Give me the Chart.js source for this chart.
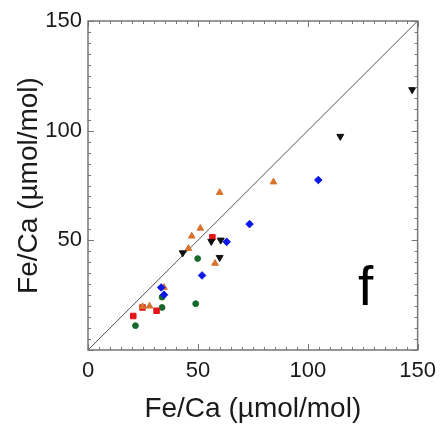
<!DOCTYPE html>
<html>
<head>
<meta charset="UTF-8">
<title>Fe/Ca</title>
<script src="https://cdn.jsdelivr.net/npm/chart.js"></script>
<style>
  body { margin: 0; background: #fff; }
  #c { display: block; }
</style>
</head>
<body>
<canvas id="c" width="444" height="432"></canvas>
<script>
// valores (x e y em µmol/mol)
var redX = [20.6, 24.8, 31.2, 56.6];
var redY = [15.5, 19.4, 17.9, 51.4];
var greenX = [21.6, 33.7, 33.7, 49.0, 49.9];
var greenY = [11.1, 24.1, 19.4, 21.1, 41.7];
var orangeX = [24.8, 28.0, 34.6, 45.7, 47.2, 51.1, 59.9, 57.8, 84.4];
var orangeY = [19.8, 20.0, 28.5, 46.3, 51.9, 55.5, 71.8, 39.5, 76.6];
var blackX = [43.1, 56.1, 60.4, 59.9, 114.8, 147.5];
var blackY = [44.3, 49.5, 50.1, 42.2, 97.4, 118.7];
var blueX = [33.3, 34.6, 51.9, 63.1, 73.5, 104.8];
var blueY = [28.5, 25.2, 34.0, 49.3, 57.4, 77.5];
var lineX = [0, 150];
var lineY = [0, 150];
var tickValues = [0, 50, 100, 150];
var axisTitle = "Fe/Ca (µmol/mol)";
var panelLabel = "f";

function pts(xs, ys) {
    return xs.map(function (x, i) { return { x: x, y: ys[i] }; });
}

// moldura com marcas para dentro, nos quatro lados
var frame = {
    id: "frame",
    afterDraw: function (chart) {
        var ctx = chart.ctx, a = chart.chartArea;
        var xs = chart.scales.x, ys = chart.scales.y;
        ctx.save();
        ctx.strokeStyle = "#777";
        ctx.lineWidth = 1;
        for (var v = 0; v <= 150; v += 5) {
            var len = v % 50 === 0 ? 6 : 3;
            var px = Math.round(xs.getPixelForValue(v)) + 0.5;
            var py = Math.round(ys.getPixelForValue(v)) + 0.5;
            ctx.beginPath();
            ctx.moveTo(px, a.bottom); ctx.lineTo(px, a.bottom - len);
            ctx.moveTo(px, a.top); ctx.lineTo(px, a.top + len);
            ctx.moveTo(a.left, py); ctx.lineTo(a.left + len, py);
            ctx.moveTo(a.right, py); ctx.lineTo(a.right - len, py);
            ctx.stroke();
        }
        ctx.lineWidth = 1.5;
        ctx.strokeRect(a.left, a.top, a.right - a.left, a.bottom - a.top);

        ctx.fillStyle = "#000";
        ctx.font = "55px 'Liberation Sans', Arial, sans-serif";
        ctx.textAlign = "center";
        ctx.textBaseline = "alphabetic";
        ctx.fillText(panelLabel, xs.getPixelForValue(126.3), ys.getPixelForValue(20.5));
        ctx.restore();
    }
};

var fontFam = "'Liberation Sans', Arial, sans-serif";

new Chart(document.getElementById("c").getContext("2d"), {
    type: "scatter",
    data: {
        datasets: [
            { data: pts(blueX, blueY), pointStyle: "rectRot", pointRadius: 3.8,
              backgroundColor: "#0b18e8", borderColor: "#0b18e8", borderWidth: 1 },
            { data: pts(blackX, blackY), pointStyle: "triangle", rotation: 180, pointRadius: 4,
              backgroundColor: "#111", borderColor: "#111", borderWidth: 1 },
            { data: pts(orangeX, orangeY), pointStyle: "triangle", pointRadius: 3.8,
              backgroundColor: "#d6732a", borderColor: "#d6732a", borderWidth: 1 },
            { data: pts(redX, redY), pointStyle: "rect", pointRadius: 3.9,
              backgroundColor: "#e4141b", borderColor: "#e4141b", borderWidth: 1 },
            { data: pts(greenX, greenY), pointStyle: "circle", pointRadius: 2.9,
              backgroundColor: "#17692a", borderColor: "#17692a", borderWidth: 1 },
            { type: "line", data: pts(lineX, lineY), borderColor: "#555", borderWidth: 1,
              pointRadius: 0, fill: false }
        ]
    },
    options: {
        responsive: false,
        animation: false,
        events: [],
        layout: { padding: { top: 21, right: 26, left: 0, bottom: 0 } },
        plugins: { legend: { display: false }, tooltip: { enabled: false } },
        scales: {
            x: {
                type: "linear", min: 0, max: 150,
                afterBuildTicks: function (s) { s.ticks = tickValues.map(function (v) { return { value: v }; }); },
                afterFit: function (s) { s.height = 82; },
                grid: { display: false, drawTicks: false },
                border: { display: false },
                ticks: { padding: 8, color: "#1a1a1a", font: { family: fontFam, size: 22 }, maxRotation: 0 },
                title: { display: true, text: axisTitle, color: "#1a1a1a",
                         font: { family: fontFam, size: 28 }, padding: { top: 0, bottom: 6 } }
            },
            y: {
                type: "linear", min: 0, max: 150,
                afterBuildTicks: function (s) { s.ticks = tickValues.map(function (v) { return { value: v }; }); },
                afterFit: function (s) { s.width = 88; },
                grid: { display: false, drawTicks: false },
                border: { display: false },
                ticks: { padding: 6, color: "#1a1a1a", font: { family: fontFam, size: 22 },
                         callback: function (v) { return v === 0 ? "" : v; } },
                title: { display: true, text: axisTitle, color: "#1a1a1a",
                         font: { family: fontFam, size: 28 }, padding: { top: 12, bottom: 0 } }
            }
        }
    },
    plugins: [frame]
});
</script>
</body>
</html>
